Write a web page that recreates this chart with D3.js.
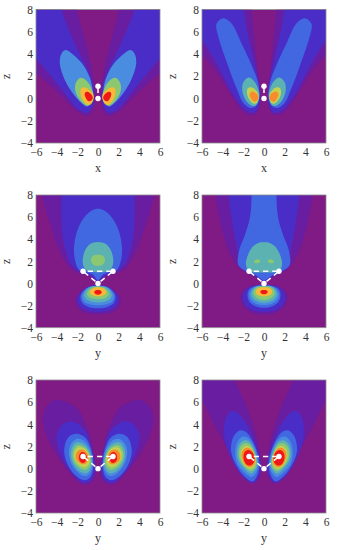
<!DOCTYPE html>
<html><head><meta charset="utf-8">
<script src="https://cdn.jsdelivr.net/npm/d3@7"></script>
<style>html,body{margin:0;padding:0;background:#fff}svg{display:block}
text{font-family:"Liberation Serif",serif;fill:#333}</style></head>
<body><svg id="c" width="339" height="550"></svg>
<script>
const levelColors=["#801a85","#691da0","#4a2dc6","#4168e0","#4a8ce0","#5cb2b0","#8cc870","#c4d050","#f8b838","#f88c2c","#ee1818"];
const xTicks=[-6,-4,-2,0,2,4,6], zTicks=[-4,-2,0,2,4,6,8];
const xLabels=["x","x","y","y","y","y"];

// Each entry: [level, shape kind, contour points (right half, data units)]
// "L" = closed lobe mirrored about 0; "H" = half outline mirrored into one shape
const panel1=[
 [1,"L",[[0.3,0],[0.5,-1],[1,-1.55],[2,-1.2],[3.5,0.2],[6,2.3],[7.5,3.2],[7.5,9.5],[2.05,9.5],[2,8],[1.5,6],[0.9,4],[0.5,2],[0.3,1]]],
 [2,"L",[[0.4,-0.2],[0.7,-1],[1.1,-1.3],[2,-0.9],[3.5,0.8],[6,3.6],[7.5,5],[7.5,9.5],[3.6,9.5],[3.5,8],[2.1,4.7],[1.2,3],[0.6,1.65],[0.4,0.8]]],
 [4,"L",[[0.55,0.3],[0.7,-0.45],[1.1,-0.72],[1.6,-0.4],[2.3,0.3],[3.2,1.65],[3.7,3.2],[3.55,4],[3.15,4.35],[2.6,4.1],[1.5,3.1],[0.85,2],[0.55,1]]],
 [6,"L",[[0.42,0.25],[0.62,-0.45],[1.05,-0.65],[1.8,-0.1],[2.2,0.7],[2.15,1.4],[1.75,1.85],[1.25,1.7],[0.75,1.15]]],
 [8,"L",[[0.42,0.2],[0.62,-0.4],[1,-0.58],[1.45,-0.15],[1.7,0.5],[1.6,0.95],[1.25,1],[0.75,0.7]]],
 [10,"L",[[0.5,0.05],[0.68,-0.2],[0.95,-0.22],[1.2,0.1],[1.28,0.45],[1.1,0.6],[0.8,0.5],[0.58,0.28]]]
];
const panel2=[
 [1,"L",[[0.3,0],[0.5,-1],[1,-1.5],[2,-1.2],[3,0],[4.5,2.2],[6,4],[7.5,5.3],[7.5,9.5],[1.25,9.5],[1.2,8],[0.9,5],[0.6,2.5],[0.35,1]]],
 [2,"L",[[0.4,-0.2],[0.7,-1],[1.1,-1.3],[2,-0.85],[3,0.4],[4.5,3],[6,5.2],[7.5,6.5],[7.5,9.5],[2.05,9.5],[1.95,8],[1.5,5.5],[0.85,2.9],[0.45,1]]],
 [3,"L",[[0.45,0.3],[0.8,-0.7],[1.3,-0.85],[2,-0.4],[2.6,0.8],[3.5,3],[4.4,5.5],[4.6,6.7],[4,7.2],[3.2,6.8],[2.2,5],[1.2,3],[0.6,1.5]]],
 [5,"L",[[0.45,0.25],[0.7,-0.55],[1.1,-0.68],[1.7,-0.25],[2.1,0.7],[2,1.45],[1.5,1.88],[1,1.6],[0.6,0.95]]],
 [7,"L",[[0.5,0.15],[0.72,-0.4],[1.05,-0.45],[1.45,-0.05],[1.65,0.5],[1.55,0.95],[1.15,1],[0.7,0.65]]],
 [9,"L",[[0.55,0.05],[0.72,-0.22],[1,-0.28],[1.25,0],[1.38,0.38],[1.2,0.62],[0.88,0.55],[0.62,0.32]]]
];
const panel3=[
 [1,"H",[[0,0],[0.7,0.6],[1.6,0.85],[2.6,1.3],[3.6,2.7],[4.5,5],[5.3,7.5],[5.7,9.5],[0,9.5]]],
 [2,"H",[[0,0.2],[0.7,0.7],[1.5,0.95],[2.5,1.6],[3.2,3.2],[3.5,5],[3.55,8],[3.55,9.5],[0,9.5]]],
 [3,"H",[[0,0.3],[0.5,0.8],[1,1],[1.8,1.2],[2.2,2],[2.32,3.2],[2,4.8],[1.3,6],[0.6,6.6],[0,6.75]]],
 [5,"H",[[0,1],[0.9,1.1],[1.35,1.45],[1.48,2.1],[1.3,2.9],[0.8,3.55],[0,3.75]]],
 [6,"H",[[0,1.6],[0.45,1.7],[0.68,2.1],[0.5,2.5],[0,2.6]]],
 [1,"H",[[0,-0.1],[0.8,-0.22],[1.6,-0.65],[2.2,-1.35],[2,-2.15],[1.3,-2.62],[0,-2.8]]],
 [2,"H",[[0,-0.15],[0.8,-0.25],[1.5,-0.65],[1.98,-1.3],[1.8,-2],[1.1,-2.42],[0,-2.55]]],
 [3,"H",[[0,-0.2],[0.8,-0.3],[1.4,-0.65],[1.7,-1.2],[1.5,-1.8],[0.9,-2.12],[0,-2.25]]],
 [4,"H",[[0,-0.22],[0.8,-0.3],[1.3,-0.65],[1.55,-1.15],[1.35,-1.65],[0.8,-1.88],[0,-1.98]]],
 [5,"H",[[0,-0.25],[0.7,-0.32],[1.15,-0.65],[1.34,-1.05],[1.12,-1.45],[0.6,-1.65],[0,-1.72]]],
 [6,"H",[[0,-0.3],[0.6,-0.38],[0.95,-0.68],[1.07,-0.98],[0.85,-1.25],[0.45,-1.38],[0,-1.42]]],
 [8,"H",[[0,-0.35],[0.5,-0.45],[0.78,-0.7],[0.72,-0.95],[0.38,-1.1],[0,-1.16]]],
 [10,"H",[[0,-0.58],[0.22,-0.62],[0.37,-0.8],[0.22,-0.98],[0,-1.02]]]
];
const panel4=[
 [1,"H",[[0,0],[0.4,0.3],[1.2,0.8],[2.2,1.2],[3.2,2.5],[4.1,5],[4.75,8],[5,9.5],[0,9.5]]],
 [2,"H",[[0,0.15],[0.6,0.5],[1.6,1],[2.3,1.6],[2.6,3],[3,5],[3.45,8],[3.6,9.5],[0,9.5]]],
 [3,"H",[[0,0.3],[0.5,0.55],[1.2,1],[1.9,1.2],[2.5,1.7],[2.4,3],[1.8,4.5],[1.35,6],[1.2,8],[1.2,9.5],[0,9.5]]],
 [5,"H",[[0,1],[1.4,1.1],[1.75,1.7],[1.5,2.7],[1,3.4],[0.4,3.7],[0,3.72]]],
 [6,"L",[[0.38,1.95],[0.55,1.85],[0.85,1.85],[0.98,1.98],[0.85,2.12],[0.65,2.2],[0.45,2.15]]],
 [1,"H",[[0,-0.1],[0.8,-0.12],[1.7,-0.4],[2.25,-1.1],[2.05,-2],[1.3,-2.6],[0,-2.82]]],
 [2,"H",[[0,-0.15],[0.8,-0.18],[1.6,-0.45],[2.05,-1.1],[1.8,-1.95],[1.1,-2.42],[0,-2.55]]],
 [3,"H",[[0,-0.2],[0.8,-0.22],[1.4,-0.5],[1.6,-1.05],[1.38,-1.7],[0.8,-2.05],[0,-2.2]]],
 [4,"H",[[0,-0.22],[0.7,-0.25],[1.2,-0.52],[1.45,-1],[1.22,-1.55],[0.7,-1.85],[0,-1.95]]],
 [5,"H",[[0,-0.25],[0.7,-0.28],[1.1,-0.55],[1.25,-0.95],[1.02,-1.4],[0.55,-1.65],[0,-1.75]]],
 [6,"H",[[0,-0.28],[0.6,-0.32],[0.95,-0.6],[1.02,-0.9],[0.78,-1.25],[0.38,-1.45],[0,-1.5]]],
 [8,"H",[[0,-0.35],[0.5,-0.42],[0.78,-0.68],[0.72,-0.95],[0.38,-1.12],[0,-1.18]]],
 [10,"H",[[0,-0.58],[0.22,-0.62],[0.36,-0.78],[0.22,-0.93],[0,-0.98]]]
];
const panel5=[
 [1,"L",[[0.2,0.1],[0.55,2],[0.95,3.4],[2,5.4],[3,6],[4.2,6.2],[5,5.6],[5.35,4.5],[5,3],[4,1.2],[2.8,-0.3],[1.5,-1.4],[0.6,-1.2],[0.22,-0.4]]],
 [2,"L",[[0.3,0.2],[0.65,2],[1.2,3.4],[2.5,4.27],[3.4,4],[4,3],[3.7,1.5],[2.7,-0.2],[1.4,-1.3],[0.65,-1.05],[0.3,-0.2]]],
 [3,"L",[[0.45,0.4],[0.75,2],[1.3,2.85],[2.1,3.15],[2.9,2.8],[3.27,1.6],[2.95,0.4],[2.2,-0.6],[1.3,-1.05],[0.7,-0.7]]],
 [4,"L",[[0.5,0.5],[0.85,1.9],[1.4,2.55],[2.1,2.68],[2.7,2.1],[2.82,1.3],[2.5,0.3],[1.8,-0.45],[1.1,-0.65],[0.65,-0.2]]],
 [5,"L",[[0.58,0.6],[0.95,1.8],[1.5,2.3],[2.15,2.35],[2.55,1.8],[2.62,1.1],[2.35,0.35],[1.75,-0.25],[1.1,-0.4],[0.72,0]]],
 [6,"L",[[0.68,0.7],[1,1.65],[1.5,2.05],[2.05,2.1],[2.4,1.65],[2.45,1],[2.2,0.45],[1.65,0],[1.15,-0.1],[0.82,0.2]]],
 [7,"L",[[0.78,0.8],[1,1.5],[1.45,1.88],[1.95,1.9],[2.27,1.5],[2.3,1],[2.05,0.55],[1.6,0.2],[1.2,0.15],[0.9,0.4]]],
 [9,"L",[[0.92,0.9],[1.05,1.4],[1.45,1.7],[1.9,1.65],[2.15,1.3],[2.15,0.95],[1.95,0.62],[1.55,0.4],[1.2,0.45],[1,0.65]]],
 [10,"L",[[1.08,1],[1.18,1.3],[1.45,1.5],[1.72,1.4],[1.85,1.1],[1.82,0.8],[1.65,0.58],[1.4,0.52],[1.2,0.68]]]
];
const panel6=[
 [1,"L",[[0.25,0],[0.5,-0.9],[1,-1.3],[2,-0.7],[3,0.9],[4.5,3.4],[6,6.2],[7.5,8.3],[7.5,9.5],[2.9,9.5],[2.8,8],[2,6.3],[1,3.8],[0.4,1.5]]],
 [2,"L",[[0.3,0.1],[0.55,-0.8],[1.1,-1.3],[2.1,-0.7],[3,0.6],[3.7,2.2],[3.85,3.8],[3.5,4.9],[2.9,5.2],[2.2,4.7],[1.05,2.8],[0.45,1.1]]],
 [3,"L",[[0.45,0.35],[0.65,-0.6],[1.1,-1.15],[2,-0.6],[2.85,0.6],[3.2,1.7],[2.95,2.9],[2.35,3.45],[1.75,3.3],[1,2.3],[0.55,1.1]]],
 [4,"L",[[0.55,0.4],[0.75,-0.35],[1.2,-0.75],[2,-0.25],[2.6,0.5],[2.78,1.5],[2.55,2.45],[2.05,2.9],[1.5,2.75],[0.9,1.9]]],
 [5,"L",[[0.62,0.45],[0.85,-0.15],[1.25,-0.45],[1.85,-0.05],[2.4,0.6],[2.6,1.4],[2.4,2.2],[1.95,2.55],[1.45,2.45],[0.95,1.7]]],
 [6,"L",[[0.72,0.5],[0.92,0],[1.3,-0.2],[1.8,0.1],[2.28,0.7],[2.45,1.35],[2.28,2],[1.9,2.3],[1.4,2.2],[0.95,1.5]]],
 [7,"L",[[0.8,0.6],[1,0.15],[1.35,0],[1.8,0.25],[2.15,0.7],[2.27,1.3],[2.12,1.8],[1.8,2.05],[1.35,1.95],[0.98,1.4]]],
 [9,"L",[[0.85,0.7],[1.05,0.28],[1.4,0.12],[1.8,0.32],[2.05,0.75],[2.17,1.25],[2,1.7],[1.7,1.88],[1.3,1.8],[0.98,1.3]]],
 [10,"L",[[0.92,0.75],[1.1,0.4],[1.45,0.28],[1.75,0.42],[1.95,0.8],[1.98,1.2],[1.82,1.55],[1.5,1.68],[1.15,1.5],[0.95,1.15]]]
];
const panels=[panel1,panel2,panel3,panel4,panel5,panel6];

const atomsXZ=[[0,0],[0,1.1]], bondsXZ=[[0,1]];
const atomsYZ=[[0,0],[-1.45,1.1],[1.45,1.1]], bondsYZ=[[0,1],[0,2],[1,2]];

const colX=[[36,160],[202,326]], rowY=[[143,9.5],[327.7,195],[513,380]];
const svg=d3.select("#c");
const defs=svg.append("defs");

panels.forEach((layers,i)=>{
  const col=i%2,row=Math.floor(i/2);
  const x=d3.scaleLinear().domain([-6,6]).range(colX[col]);
  const z=d3.scaleLinear().domain([-4,8]).range(rowY[row]);
  const g=svg.append("g");
  defs.append("clipPath").attr("id","cp"+i).append("rect")
    .attr("x",x(-6)).attr("y",z(8)).attr("width",x(6)-x(-6)).attr("height",z(-4)-z(8));
  const plot=g.append("g").attr("clip-path",`url(#cp${i})`);
  plot.append("rect").attr("x",x(-6)).attr("y",z(8)).attr("width",x(6)-x(-6)).attr("height",z(-4)-z(8)).attr("fill",levelColors[0]);
  const line=d3.line().x(d=>x(d[0])).y(d=>z(d[1])).curve(d3.curveCatmullRomClosed.alpha(0.5));
  const mir=p=>p.map(d=>[-d[0],d[1]]);
  layers.forEach(([lvl,kind,pts])=>{
    const shapes=kind==="L"?[pts,mir(pts)]:[pts.concat(mir(pts).slice(1,-1).reverse())];
    plot.selectAll(null).data(shapes).enter().append("path").attr("d",line).attr("fill",levelColors[lvl]);
  });
  const atoms=i<2?atomsXZ:atomsYZ, bonds=i<2?bondsXZ:bondsYZ;
  plot.selectAll(null).data(bonds).enter().append("line")
    .attr("x1",d=>x(atoms[d[1]][0])).attr("y1",d=>z(atoms[d[1]][1]))
    .attr("x2",d=>x(atoms[d[0]][0])).attr("y2",d=>z(atoms[d[0]][1]))
    .attr("stroke","#fff").attr("stroke-width",1.5).attr("stroke-dasharray","5.3 4").attr("stroke-dashoffset",-1.4);
  plot.selectAll(null).data(atoms).enter().append("circle")
    .attr("cx",d=>x(d[0])).attr("cy",d=>z(d[1])).attr("r",2.7).attr("fill","#fff");

  const ax=g.append("g").attr("transform",`translate(0,${z(-4)})`)
    .call(d3.axisBottom(x).tickValues(xTicks).tickSize(0).tickPadding(5).tickFormat(d=>String(d).replace("-","\u2212")));
  const ay=g.append("g").attr("transform",`translate(${x(-6)},0)`)
    .call(d3.axisLeft(z).tickValues(zTicks).tickSize(0).tickPadding(3).tickFormat(d=>String(d).replace("-","\u2212")));
  [ax,ay].forEach(a=>{a.select(".domain").remove();a.selectAll("text").attr("font-size",11.5).attr("font-family",'"Liberation Serif",serif').attr("fill","#3a3a3a");});
  g.append("rect").attr("x",x(-6)).attr("y",z(8)).attr("width",x(6)-x(-6)).attr("height",z(-4)-z(8))
    .attr("fill","none").attr("stroke","#8a8a8a").attr("stroke-width",0.8);
  g.append("text").attr("x",x(0)).attr("y",z(-4)+29).attr("text-anchor","middle").attr("font-size",12).text(xLabels[i]);
  g.append("text").attr("transform",`translate(${x(-6)-26},${z(2)}) rotate(-90)`).attr("text-anchor","middle").attr("font-size",12).text("z");
});
</script></body></html>
